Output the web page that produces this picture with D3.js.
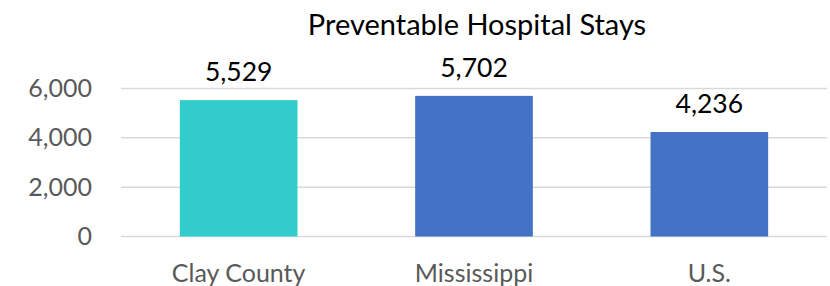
<!doctype html>
<html>
  <head>
    <meta charset="utf-8">
    <title>Preventable Hospital Stays</title>
    <style>
      body { margin: 0; background: #fff; }
      svg { display: block; font-family: Lato, "Open Sans", sans-serif; }
      .grid line { stroke: #d9d9d9; stroke-width: 1.5; }
      .tick-label { fill: #595959; font-size: 25px; }
      .value-label { fill: #000; font-size: 26.5px; }
      .title { fill: #000; font-size: 29px; }
    </style>
  </head>
  <body>
    <div id="chart"></div>
    <script src="https://cdn.jsdelivr.net/npm/d3@7"></script>
    <script>
      var categories = ['Clay County', 'Mississippi', 'U.S.'];
      var values = [5529, 5702, 4236];
      var barColors = ['#33cccc', '#4472c4', '#4472c4'];
      var yTicks = [0, 2000, 4000, 6000];

      var width = 830, height = 286;
      var margin = { top: 88.5, right: 3, bottom: 49.5, left: 121 };

      var svg = d3.select('#chart').append('svg')
        .attr('width', width)
        .attr('height', height);

      var x = d3.scaleBand()
        .domain(categories)
        .range([margin.left, width - margin.right])
        .paddingInner(0.5)
        .paddingOuter(0.25);

      var y = d3.scaleLinear()
        .domain([0, 6000])
        .range([height - margin.bottom, margin.top]);

      // gridlines
      svg.append('g').attr('class', 'grid')
        .selectAll('line')
        .data(yTicks)
        .enter().append('line')
        .attr('x1', margin.left)
        .attr('x2', width - margin.right)
        .attr('y1', function(d) { return y(d); })
        .attr('y2', function(d) { return y(d); });

      var fmt = d3.format(',');

      svg.append('g')
        .selectAll('text')
        .data(yTicks)
        .enter().append('text')
        .attr('class', 'tick-label')
        .attr('x', 92)
        .attr('y', function(d) { return y(d) + 8.5; })
        .attr('text-anchor', 'end')
        .text(function(d) { return fmt(d); });

      svg.append('g')
        .selectAll('rect')
        .data(values)
        .enter().append('rect')
        .attr('x', function(d, i) { return x(categories[i]); })
        .attr('y', function(d) { return y(d); })
        .attr('width', x.bandwidth())
        .attr('height', function(d) { return y(0) - y(d); })
        .attr('fill', function(d, i) { return barColors[i]; });

      svg.append('g')
        .selectAll('text')
        .data(values)
        .enter().append('text')
        .attr('class', 'value-label')
        .attr('x', function(d, i) { return x(categories[i]) + x.bandwidth() / 2; })
        .attr('y', function(d) { return y(d) - 19; })
        .attr('text-anchor', 'middle')
        .text(function(d) { return fmt(d); });

      svg.append('g')
        .selectAll('text')
        .data(categories)
        .enter().append('text')
        .attr('class', 'tick-label')
        .attr('x', function(d) { return x(d) + x.bandwidth() / 2; })
        .attr('y', 282)
        .attr('text-anchor', 'middle')
        .text(function(d) { return d; });

      svg.append('text')
        .attr('class', 'title')
        .attr('x', 477)
        .attr('y', 35)
        .attr('text-anchor', 'middle')
        .text('Preventable Hospital Stays');
    </script>
  </body>
</html>
